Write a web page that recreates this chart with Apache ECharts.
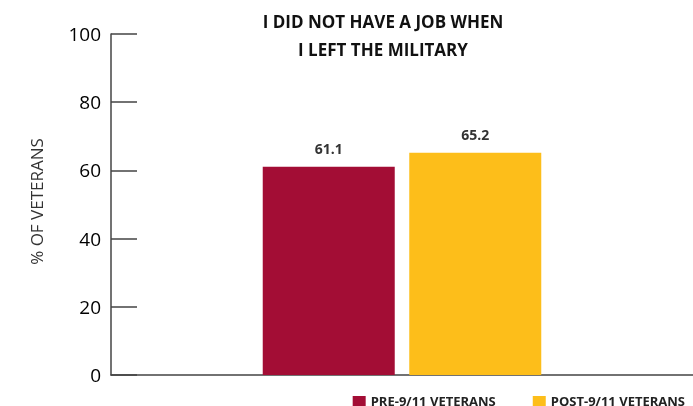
<!DOCTYPE html>
<html><head><meta charset="utf-8">
<script src="https://cdn.jsdelivr.net/npm/echarts@6/dist/echarts.min.js"></script>
<style>html,body{margin:0;padding:0;background:#fff}#c{width:693px;height:406px}</style>
</head><body><div id="c"></div>
<script>
var categories = ['I DID NOT HAVE A JOB WHEN I LEFT THE MILITARY'];
var seriesNames = ['PRE-9/11 VETERANS', 'POST-9/11 VETERANS'];
var preValues = [61.1];
var postValues = [65.2];
var yTicks = [0, 20, 40, 60, 80, 100];

var chart = echarts.init(document.getElementById('c'));
var font = '"Open Sans", sans-serif';
chart.setOption({
  animation: false,
  title: {
    text: 'I DID NOT HAVE A JOB WHEN\nI LEFT THE MILITARY',
    left: 378, top: 4, textAlign: 'center',
    textStyle: {fontFamily: font, fontWeight: 'bold', fontSize: 17, color: '#111', lineHeight: 28}
  },
  legend: {
    data: seriesNames, right: 3, top: 391, itemWidth: 13, itemHeight: 13, itemGap: 37,
    icon: 'rect',
    textStyle: {fontFamily: font, fontWeight: 'bold', fontSize: 13, color: '#222'}
  },
  grid: {left: 111, right: 0, top: 34, bottom: 31, containLabel: false},
  xAxis: {
    type: 'category', data: categories,
    axisLine: {lineStyle: {color: '#444', width: 1.5}},
    axisTick: {show: false}, axisLabel: {show: false}
  },
  yAxis: {
    type: 'value', min: yTicks[0], max: yTicks[yTicks.length - 1], interval: 20,
    name: '% OF VETERANS', nameLocation: 'middle', nameGap: 64, nameRotate: 90,
    nameTextStyle: {fontFamily: font, fontSize: 17, color: '#333', padding: [0, 0, 0, 6]},
    axisLine: {show: true, lineStyle: {color: '#444', width: 1.5}},
    axisTick: {show: true, inside: true, length: 26, lineStyle: {color: '#444', width: 1.5}},
    axisLabel: {fontFamily: font, fontSize: 19, color: '#000', margin: 10, verticalAlign: 'top', padding: [-8, 0, 0, 0]},
    splitLine: {show: false}
  },
  series: [
    {name: seriesNames[0], type: 'bar', data: preValues, barWidth: 132, barGap: '11%',
     itemStyle: {color: '#A30D35'},
     label: {show: true, position: 'top', distance: 10, fontFamily: font, fontWeight: 'bold', fontSize: 14, color: '#333'}},
    {name: seriesNames[1], type: 'bar', data: postValues, barWidth: 132,
     itemStyle: {color: '#FDBE1A'},
     label: {show: true, position: 'top', distance: 10, fontFamily: font, fontWeight: 'bold', fontSize: 14, color: '#333'}}
  ]
});
</script></body></html>
